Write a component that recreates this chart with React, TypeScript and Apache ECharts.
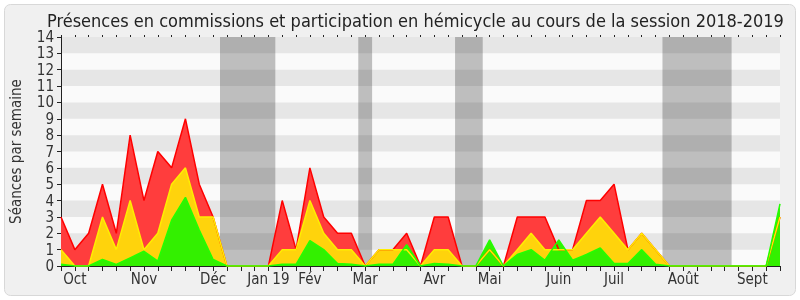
import React, { useEffect, useRef } from "react";
import * as echarts from "echarts";

const weeks: number[] = Array.from({ length: 53 }, (_, i) => i);
const redTotal = [3,1,2,5,2,8,4,7,6,9,5,3,0,0,0,0,4,1,6,3,2,2,0,1,1,2,0,3,3,0,0,1,0,3,3,3,1,1,4,4,5,1,2,1,0,0,0,0,0,0,0,0,3];
const yellowHemi = [1,0,0,3,1,4,1,2,5,6,3,3,0,0,0,0,1,1,4,2,1,1,0,1,1,1,0,1,1,0,0,1,0,1,2,1,1,1,2,3,2,1,2,1,0,0,0,0,0,0,0,0,3];
const greenInter = [0.1,0,0,0.4,0.1,0.5,0.9,0.3,2.8,4.2,2.2,0.4,0,0,0,0,0.1,0.1,1.55,1,0.15,0.1,0,0.1,0.1,1.3,0,0.15,0.1,0,0,1.6,0,0.7,1,0.35,1.6,0.35,0.7,1.1,0.15,0.15,1,0.1,0,0,0,0,0,0,0,0,3.8];
const monthLabels = ["Oct","Nov","Déc","Jan 19","Fév","Mar","Avr","Mai","Juin","Juil","Août","Sept"];
const monthLabelWeeks = [1,6,11,15,18,22,27,31,36,40,45,50];
const vacations: [number, number][] = [[11.5,15.5],[21.5,22.5],[28.5,30.5],[43.5,48.5]];
const yTicks = [0,1,2,3,4,5,6,7,8,9,10,11,12,13,14];

const FONT = "'DejaVu Sans Condensed', 'DejaVu Sans'";

export default function App() {
  const ref = useRef<HTMLDivElement>(null);
  useEffect(() => {
    if (!ref.current) return;
    const chart = echarts.init(ref.current, null, { renderer: "svg" });
    const pts = (arr: number[]) => weeks.map((w, i) => [w, arr[i]]);
    const labelMap: Record<number, string> = {};
    monthLabelWeeks.forEach((w, i) => (labelMap[w] = monthLabels[i]));
    const stripes = yTicks.filter((v) => v % 2 === 1).map((v) => [{ yAxis: v }, { yAxis: v + 1 }]);
    const area = (name: string, arr: number[], fill: string, z: number) => ({
      type: "line", name, data: pts(arr), z, symbol: "none",
      lineStyle: { width: 0, opacity: 0 },
      areaStyle: { color: fill, opacity: 1 },
    });
    const edge = (name: string, arr: number[], color: string, z: number) => ({
      type: "line", name, data: pts(arr), z, symbol: "none",
      lineStyle: { color, width: 1.5 },
    });
    chart.setOption({
      animation: false,
      backgroundColor: "transparent",
      textStyle: { fontFamily: FONT },
      graphic: [
        {
          type: "rect",
          z: -10,
          shape: { x: 4.5, y: 4.5, width: 791, height: 291, r: 6 },
          style: { fill: "#f0f0f0", stroke: "#d8d8d8", lineWidth: 1 },
        },
      ],
      title: {
        text: "Présences en commissions et participation en hémicycle au cours de la session 2018-2019",
        left: 42,
        top: 6,
        textStyle: { fontFamily: FONT, fontSize: 18, fontWeight: "normal", color: "#222" },
      },
      grid: {
        left: 61, right: 20, top: 37, bottom: 34,
        show: true, backgroundColor: "#fafafa", borderWidth: 0,
      },
      xAxis: [
        {
          type: "value", min: 0, max: 52, interval: 1,
          axisLine: { show: true, lineStyle: { color: "#222", width: 1 } },
          axisTick: { show: true, length: 5, lineStyle: { color: "#222" } },
          splitLine: { show: false },
          axisLabel: {
            fontFamily: FONT, fontSize: 15, color: "#333", margin: 5,
            formatter: (v: number) => labelMap[v] ?? "",
          },
        },
        {
          type: "value", min: 0, max: 52, interval: 1, position: "top",
          axisLine: { show: false },
          axisTick: { show: true, length: 2, inside: false, lineStyle: { color: "#222" } },
          splitLine: { show: false },
          axisLabel: { show: false },
        },
      ],
      yAxis: {
        type: "value", min: 0, max: 14, interval: 1,
        name: "Séances par semaine",
        nameLocation: "middle",
        nameGap: 38,
        nameTextStyle: { fontFamily: FONT, fontSize: 15, color: "#333" },
        axisLine: { show: true, lineStyle: { color: "#222" } },
        axisTick: { show: true, length: 4, lineStyle: { color: "#222" } },
        splitLine: { show: false },
        axisLabel: { fontFamily: FONT, fontSize: 15, color: "#333", margin: 7 },
      },
      series: [
        {
          type: "line", name: "vacances", data: [], z: 1, silent: true,
          markArea: {
            silent: true,
            itemStyle: { color: "#bebebe" },
            data: vacations.map(([a, b]) => [{ xAxis: a }, { xAxis: b }]),
          },
        },
        {
          type: "line", name: "bandes", data: [], z: 2, silent: true,
          markArea: {
            silent: true,
            itemStyle: { color: "rgba(0,0,0,0.08)" },
            data: stripes,
          },
        },
        area("Commission", redTotal, "#ff3d3d", 3),
        area("Hémicycle", yellowHemi, "#ffd30c", 4),
        area("Interventions", greenInter, "#33f000", 5),
        edge("Commission ligne", redTotal, "#ff0000", 6),
        edge("Hémicycle ligne", yellowHemi, "#ffee00", 7),
        edge("Interventions ligne", greenInter, "#22ff00", 8),
      ],
    });
    return () => chart.dispose();
  }, []);
  return (
    <div
      ref={ref}
      style={{ position: "fixed", left: 0, top: 0, width: 800, height: 300 }}
    />
  );
}
